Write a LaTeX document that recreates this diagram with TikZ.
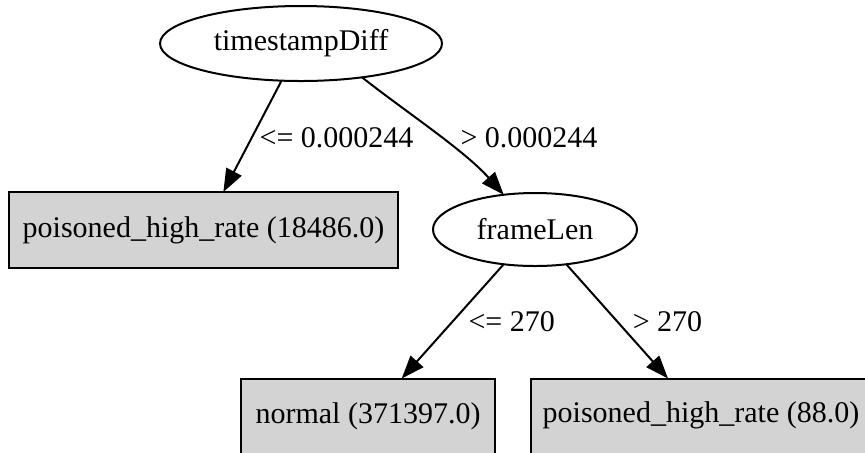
\documentclass[tikz,border=0pt]{standalone}
\usepackage{fontspec}
\setmainfont{Liberation Serif}
\usetikzlibrary{arrows.meta,shapes.geometric}
\definecolor{leafgray}{HTML}{D3D3D3}
\begin{document}
\begin{tikzpicture}[x=0.5pt,y=-0.5pt,
  font=\fontsize{15}{17}\selectfont,
  every node/.style={inner sep=0pt, outer sep=0pt},
  split/.style={ellipse, draw, line width=1pt, fill=white},
  leaf/.style={rectangle, draw, line width=1pt, fill=leafgray, minimum height=38pt},
  openleaf/.style={rectangle, fill=leafgray, minimum height=38pt},
  edge/.style={line width=1pt, -{Triangle[length=11.5pt,width=8.5pt]}},
  elabel/.style={}]
\useasboundingbox (0,0) rectangle (865,452);

% decision nodes
\node[split, minimum width=141pt, minimum height=37.5pt] (t) at (301,43.5) {timestampDiff};
\node[split, minimum width=102pt, minimum height=36.5pt] (f) at (535,229.5) {frameLen};

% leaves
\node[leaf, minimum width=194.5pt] (b1) at (203.5,230) {poisoned\_high\_rate (18486.0)};
\node[leaf, minimum width=127pt] (n) at (368,416.5) {normal (371397.0)};
% the right-hand leaf runs past the page edge: only its left and top sides are stroked
\node[openleaf, minimum width=200pt] (r) at (731,416.5) {};
\draw[line width=1pt] (r.south west) -- (r.north west) -- (r.north east);
\node (rt) at (701,415) {poisoned\_high\_rate (88.0)};

% branches
\draw[edge] (t) -- (b1);
\draw[edge] (t.-29) .. controls (406,112) and (464,150) .. (f.132);
\draw[edge] (f.-132) -- ([xshift=16.85pt]n.north);
\draw[edge] (f.-48) -- ([xshift=-31.5pt]r.north);

% branch conditions
\node[elabel] (l1) at (336.5,138) {<= 0.000244};
\node[elabel] (l2) at (529,138) {> 0.000244};
\node[elabel] (l3) at (511.7,322) {<= 270};
\node[elabel] (l4) at (667.5,322) {> 270};
\end{tikzpicture}
\end{document}
